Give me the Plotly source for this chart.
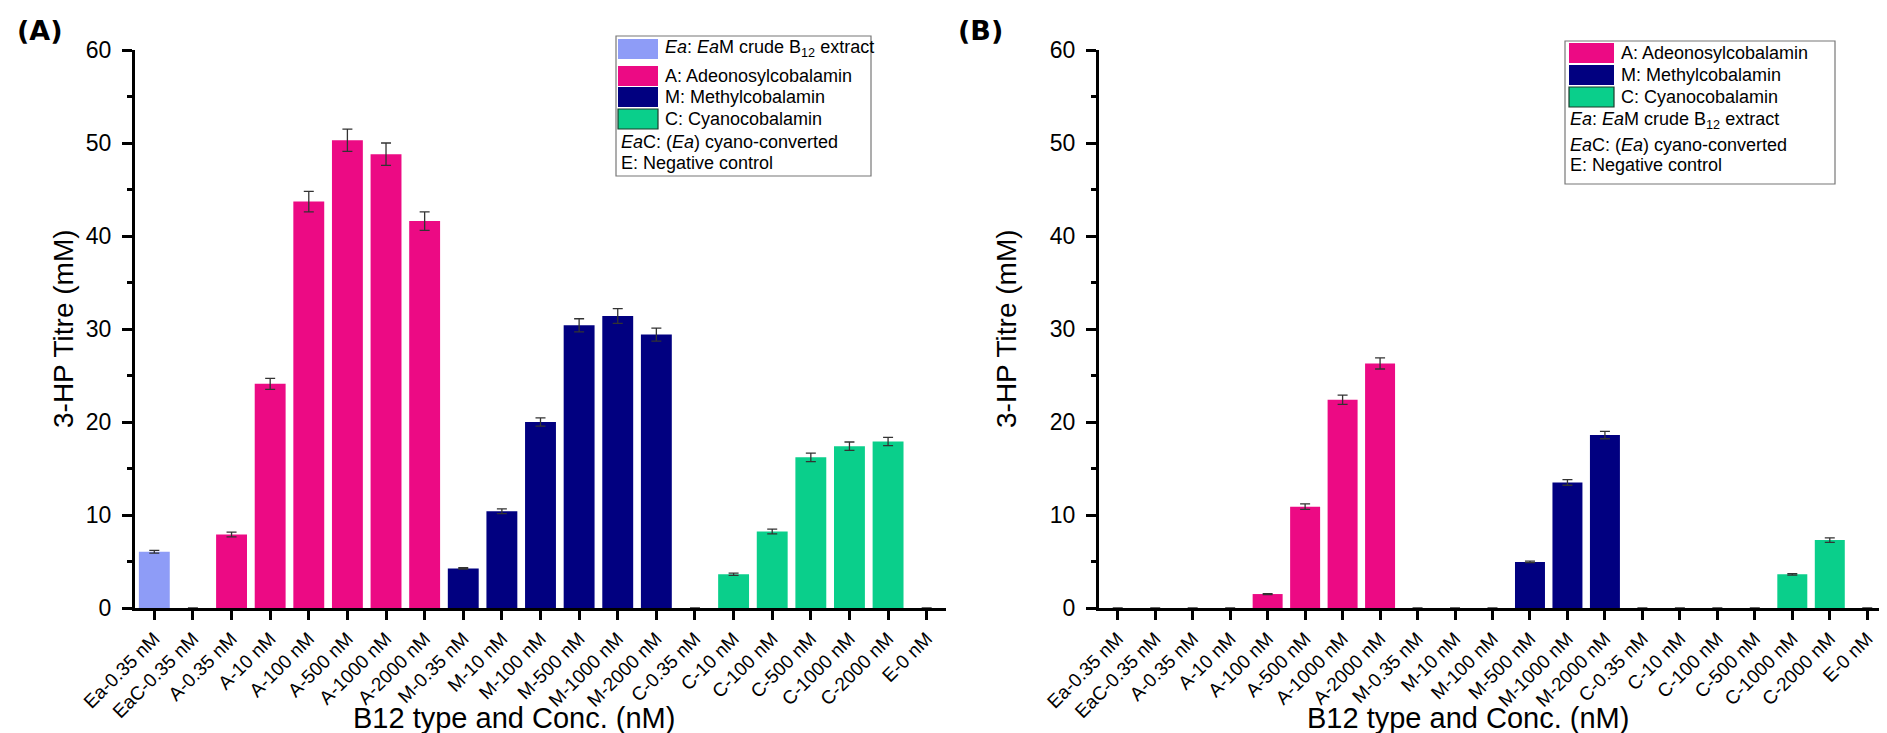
import plotly.graph_objects as go

W, H = 1887, 733

categories = ["Ea-0.35 nM", "EaC-0.35 nM", "A-0.35 nM", "A-10 nM", "A-100 nM", "A-500 nM",
              "A-1000 nM", "A-2000 nM", "M-0.35 nM", "M-10 nM", "M-100 nM", "M-500 nM",
              "M-1000 nM", "M-2000 nM", "C-0.35 nM", "C-10 nM", "C-100 nM", "C-500 nM",
              "C-1000 nM", "C-2000 nM", "E-0 nM"]

# panel A: titre (mM) and error
titre_a = [6.05, 0, 7.9, 24.1, 43.7, 50.3, 48.8, 41.6, 4.25, 10.4, 20.0, 30.4,
           31.4, 29.4, 0, 3.62, 8.23, 16.2, 17.4, 17.9, 0]
err_a = [0.15, None, 0.25, 0.6, 1.1, 1.2, 1.2, 1.0, 0.08, 0.25, 0.45, 0.7,
         0.8, 0.7, None, 0.12, 0.25, 0.45, 0.45, 0.45, None]

# panel B
titre_b = [0, 0, 0, 0, 1.5, 10.9, 22.4, 26.3, 0, 0, 0, 4.95,
           13.5, 18.6, 0, 0, 0, 0, 3.62, 7.3, 0]
err_b = [None, None, None, None, 0.05, 0.3, 0.5, 0.6, None, None, None, 0.08,
         0.3, 0.4, None, None, None, None, 0.08, 0.25, None]

colours = {"Ea": "#8E9CF7", "A": "#EC0A84", "M": "#010080", "C": "#0ACF8B", "E": "#000000", "EaC": "#0ACF8B"}


def colour_of(cat):
    return colours[cat.split("-")[0]]


def fx(x):
    return x / W


def fy(y):
    return 1 - y / H


font = "Liberation Sans, Arial, sans-serif"

fig = go.Figure()
for vals, errs, xa, ya in [(titre_a, err_a, "x", "y"), (titre_b, err_b, "x2", "y2")]:
    fig.add_trace(go.Bar(
        x=categories, y=vals, xaxis=xa, yaxis=ya,
        marker=dict(color=[colour_of(c) for c in categories], line=dict(width=0)),
        error_y=dict(type="data", array=errs, visible=True, color="#333333", thickness=1.3, width=5),
        showlegend=False,
    ))

xcommon = dict(type="category", range=[-0.5, 20.5], showline=True, linecolor="black", linewidth=3,
               ticks="outside", tickwidth=3, ticklen=9, tickcolor="black", tickangle=-45,
               tickfont=dict(family=font, size=19, color="black"), showgrid=False, zeroline=False,
               automargin=False)
ycommon = dict(range=[0, 60], dtick=10, showline=True, linecolor="black", linewidth=3,
               ticks="outside", tickwidth=3, ticklen=10, tickcolor="black",
               minor=dict(ticks="outside", ticklen=5, tickwidth=3, dtick=5, tickcolor="black"),
               tickfont=dict(family=font, size=23, color="black"), showgrid=False, zeroline=False,
               ticklabelstandoff=6, automargin=False)

ydom = [fy(600), fy(42)]
fig.update_layout(
    width=W, height=H, margin=dict(l=0, r=0, t=0, b=0, pad=0), autosize=False,
    plot_bgcolor="white", paper_bgcolor="white", bargap=0.2,
    xaxis=dict(xcommon, domain=[fx(127), fx(938)], anchor="y"),
    yaxis=dict(ycommon, domain=ydom, anchor="x"),
    xaxis2=dict(xcommon, domain=[fx(1091), fx(1878)], anchor="y2"),
    yaxis2=dict(ycommon, domain=ydom, anchor="x2"),
)

shapes = []
ann = []

# axis titles and panel labels
for cx, ytx, lab, lx in [(506, 55, "(A)", 7), (1460, 998, "(B)", 948)]:
    ann.append(dict(x=fx(cx), y=fy(710), xref="paper", yref="paper", text="B12 type and Conc. (nM)",
                    xanchor="center", yanchor="middle",
                    showarrow=False, font=dict(family=font, size=29, color="black")))
    ann.append(dict(x=fx(ytx), y=fy(321), xref="paper", yref="paper", text="3-HP Titre (mM)",
                    xanchor="center", yanchor="middle",
                    textangle=-90, showarrow=False, font=dict(family=font, size=28, color="black")))
    ann.append(dict(x=fx(lx), y=fy(22), xref="paper", yref="paper", text="<b>" + lab + "</b>",
                    xanchor="left", yanchor="middle", showarrow=False,
                    font=dict(family="DejaVu Sans, sans-serif", size=27, color="black")))

ea_txt = "<i>Ea</i>: <i>Ea</i>M crude B<sub>12</sub> extract"
eac_txt = "<i>Ea</i>C: (<i>Ea</i>) cyano-converted"
e_txt = "E: Negative control"
legend_a = [(41, "Ea", ea_txt), (68, "A", "A: Adeonosylcobalamin"), (89, "M", "M: Methylcobalamin"),
            (111, "C", "C: Cyanocobalamin"), (134, None, eac_txt), (155, None, e_txt)]
legend_b = [(45, "A", "A: Adeonosylcobalamin"), (67, "M", "M: Methylcobalamin"),
            (89, "C", "C: Cyanocobalamin"), (112, None, ea_txt), (137, None, eac_txt), (157, None, e_txt)]

for box, patch, rows in [((608, 28, 863, 168), (610, 650), legend_a),
                         ((1557, 33, 1827, 176), (1561, 1606), legend_b)]:
    shapes.append(dict(type="rect", xref="paper", yref="paper", x0=fx(box[0]), x1=fx(box[2]),
                       y0=fy(box[3]), y1=fy(box[1]), line=dict(color="#777777", width=1.2),
                       fillcolor="white", layer="above"))
    for yc, key, txt in rows:
        if key:
            shapes.append(dict(type="rect", xref="paper", yref="paper", x0=fx(patch[0]), x1=fx(patch[1]),
                               y0=fy(yc + 10), y1=fy(yc - 10), fillcolor=colours[key], layer="above",
                               line=dict(color="#1b3b2b" if key == "C" else colours[key],
                                         width=1.2 if key == "C" else 0)))
            tx = patch[1] + 5
        else:
            tx = box[0] + 3
        ann.append(dict(x=fx(tx), y=fy(yc), xref="paper", yref="paper", text=txt, xanchor="left",
                        yanchor="middle", showarrow=False, font=dict(family=font, size=18, color="black")))

fig.update_layout(shapes=shapes, annotations=ann)
fig.write_html("out.html")
